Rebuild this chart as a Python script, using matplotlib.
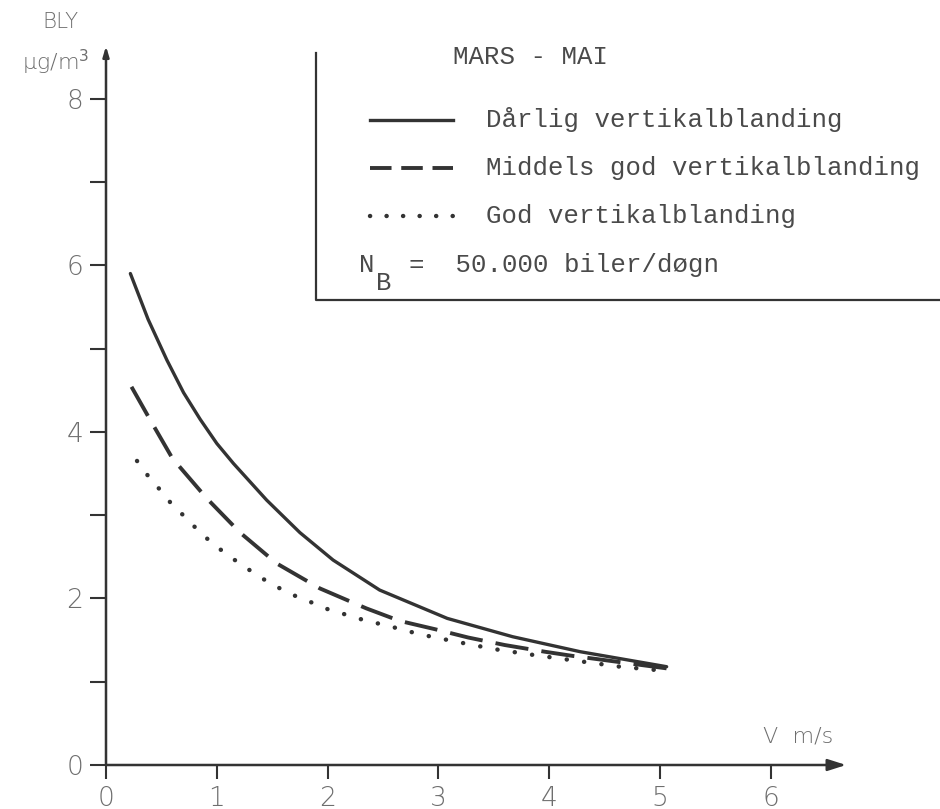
import matplotlib
matplotlib.use("Agg")
import matplotlib.pyplot as plt
from matplotlib.lines import Line2D

plt.rcParams['lines.scale_dashes'] = False

# wind speed V (m/s) and lead (BLY, ug/m3)
v_darlig = [0.22, 0.38, 0.55, 0.70, 0.85, 1.00, 1.15, 1.45, 1.75, 2.05, 2.47, 3.08, 3.67, 4.28, 5.06]
bly_darlig = [5.90, 5.35, 4.86, 4.47, 4.15, 3.86, 3.62, 3.18, 2.79, 2.46, 2.10, 1.76, 1.54, 1.36, 1.18]

v_middels = [0.23, 0.40, 0.60, 0.91, 1.21, 1.54, 1.93, 2.35, 2.65, 2.97, 3.27, 3.60, 3.96, 4.21, 4.44, 5.06]
bly_middels = [4.54, 4.14, 3.68, 3.20, 2.79, 2.42, 2.12, 1.88, 1.73, 1.63, 1.53, 1.44, 1.36, 1.31, 1.27, 1.16]

v_god = [0.28, 0.38, 0.49, 0.60, 0.72, 0.85, 0.98, 1.12, 1.25, 1.41, 1.54, 1.69, 1.84, 2.02,
         2.18, 2.35, 2.52, 2.83, 3.16, 3.51, 3.81, 4.14, 4.64, 4.97]
bly_god = [3.65, 3.47, 3.30, 3.12, 2.97, 2.79, 2.64, 2.50, 2.38, 2.24, 2.14, 2.04, 1.96, 1.86,
           1.80, 1.73, 1.68, 1.57, 1.48, 1.39, 1.33, 1.27, 1.18, 1.14]

x_ticks = [0, 1, 2, 3, 4, 5, 6]
y_ticks = [0, 1, 2, 3, 4, 5, 6, 7, 8]
y_labels = ['0', '', '2', '', '4', '', '6', '', '8']

legend_title = 'MARS - MAI'
legend_labels = ['Dårlig vertikalblanding', 'Middels god vertikalblanding', 'God vertikalblanding']

ink = '#333333'
grey = '#6e6e6e'
W, H = 940, 809


def fx(px):
    return px / W


def fy(py):
    return 1 - py / H


fig = plt.figure(figsize=(9.4, 8.09), dpi=100)
fig.patch.set_facecolor('white')
ax = fig.add_axes([fx(106), 44 / H, 834 / W, 765 / H])
ax.set_xlim(0, 834 / 110.8)
ax.set_ylim(0, 765 / 83.3)
ax.patch.set_visible(False)
for s in ax.spines.values():
    s.set_visible(False)

# curves
ax.plot(v_darlig, bly_darlig, color=ink, lw=2.4, solid_capstyle='round', clip_on=False)
ax.plot(v_middels, bly_middels, color=ink, lw=2.8, linestyle=(0, (24, 9.5)), clip_on=False)
ax.plot(v_god, bly_god, color=ink, lw=3.2, linestyle=(0, (0.1, 12.5)),
        dash_capstyle='round', clip_on=False)

# axes with arrows
ax.annotate('', xy=(6.68, 0), xytext=(0, 0),
            arrowprops=dict(arrowstyle='-|>,head_length=1.1,head_width=0.35', lw=1.8,
                            color=ink, shrinkA=0, shrinkB=0))
ax.annotate('', xy=(0, 8.63), xytext=(0, 0),
            arrowprops=dict(arrowstyle='-|>,head_length=0.6,head_width=0.18', lw=1.8,
                            color=ink, shrinkA=0, shrinkB=0))

ax.set_xticks(x_ticks)
ax.set_xticklabels([str(t) for t in x_ticks])
ax.set_yticks(y_ticks)
ax.set_yticklabels(y_labels)
ax.tick_params(axis='y', direction='out', length=11.5, width=1.5, color=ink, pad=5,
               labelsize=19, labelcolor=grey)
ax.tick_params(axis='x', direction='out', length=10, width=1.5, color=ink, pad=5,
               labelsize=19, labelcolor=grey)
for lab in ax.get_xticklabels() + ax.get_yticklabels():
    lab.set_fontfamily('DejaVu Sans')
    lab.set_fontweight('light')

# axis titles
fig.text(fx(60), fy(22), 'BLY', ha='center', va='center', fontsize=15.5, color=grey,
         family='DejaVu Sans', fontweight='light')
fig.text(fx(56), fy(62), 'µg/m$^3$', ha='center', va='center', fontsize=16, color=grey,
         family='DejaVu Sans', fontweight='light')
fig.text(fx(798), fy(737), 'V  m/s', ha='center', va='center', fontsize=16, color=grey,
         family='DejaVu Sans', fontweight='light')

# legend box (left and bottom border only)
fig.add_artist(Line2D([fx(316), fx(316), fx(940)], [fy(53), fy(300), fy(300)],
                      color=ink, lw=1.6, transform=fig.transFigure))
mono = 'Liberation Mono'
tsize = 18.5
fig.text(fx(453), fy(57), legend_title, ha='left', va='center', fontsize=tsize,
         color='#4a4a4a', family=mono)
row_y = [120, 168, 216]
styles = [dict(lw=2.4), dict(lw=2.8, linestyle=(0, (15.5, 7))),
          dict(lw=3.2, linestyle=(0, (0.1, 11.8)), dash_capstyle='round')]
for yy, lab, st in zip(row_y, legend_labels, styles):
    fig.add_artist(Line2D([fx(370), fx(453)], [fy(yy), fy(yy)], color=ink,
                          transform=fig.transFigure, **st))
    fig.text(fx(486), fy(yy), lab, ha='left', va='center', fontsize=tsize,
             color='#4a4a4a', family=mono)
fig.text(fx(359), fy(265), 'N', ha='left', va='center', fontsize=tsize, color='#4a4a4a', family=mono)
fig.text(fx(376), fy(283), 'B', ha='left', va='center', fontsize=tsize, color='#4a4a4a', family=mono)
fig.text(fx(409), fy(265), '=  50.000 biler/døgn', ha='left', va='center', fontsize=tsize,
         color='#4a4a4a', family=mono)

fig.savefig('out.png', dpi=100, facecolor='white')
